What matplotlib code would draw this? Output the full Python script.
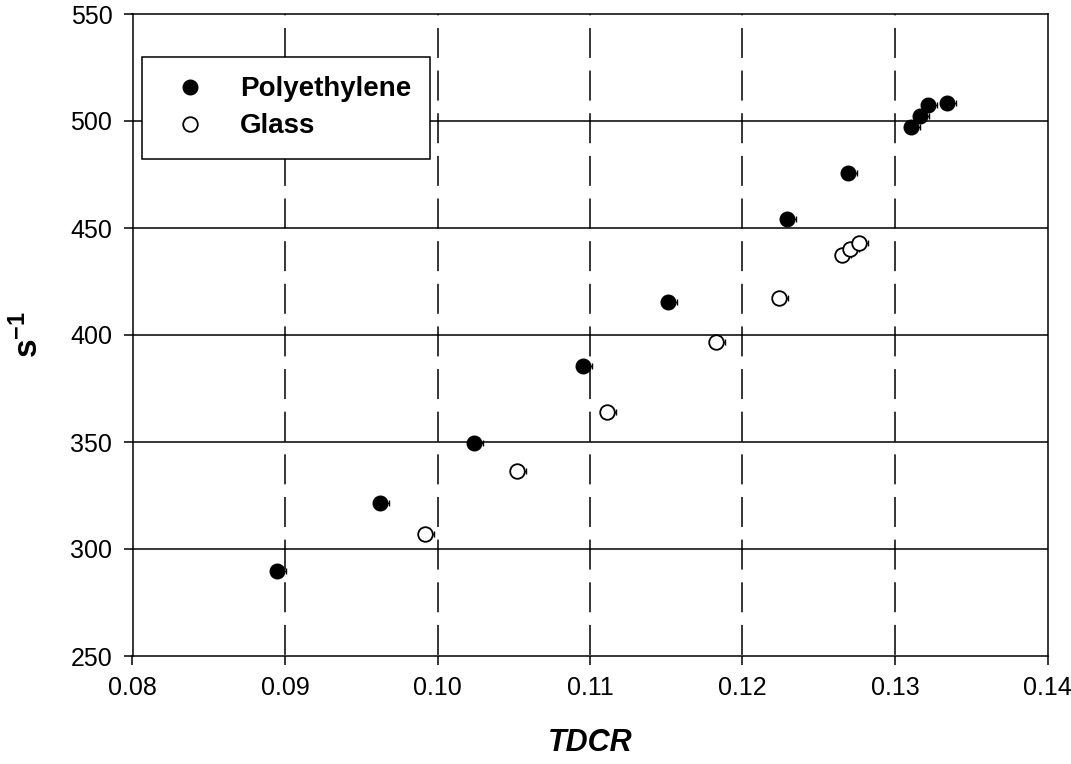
import matplotlib.pyplot as plt
import numpy as np

plt.rcParams['font.family'] = ['Liberation Sans', 'DejaVu Sans']
plt.rcParams['mathtext.fontset'] = 'custom'
plt.rcParams['mathtext.rm'] = 'Liberation Sans'
plt.rcParams['mathtext.bf'] = 'Liberation Sans:bold'
plt.rcParams['lines.scale_dashes'] = False

# values
poly_x = [0.08946, 0.09623, 0.10239, 0.10952, 0.11513, 0.12289, 0.12689,
          0.13107, 0.13164, 0.13216, 0.13339]
poly_y = [289.8, 321.5, 349.3, 385.6, 415.6, 454.1, 475.9,
          497.2, 502.2, 507.7, 508.2]
poly_err = [0.0006] * len(poly_x)

glass_x = [0.09918, 0.10519, 0.11109, 0.11826, 0.12237, 0.12654, 0.12702, 0.12761]
glass_y = [307.2, 336.3, 363.9, 396.7, 417.5, 437.2, 440.3, 442.8]
glass_err = [0.0006] * len(glass_x)

x_ticks = [0.08, 0.09, 0.10, 0.11, 0.12, 0.13, 0.14]
x_labels = ['0.08', '0.09', '0.10', '0.11', '0.12', '0.13', '0.14']
y_ticks = [250, 300, 350, 400, 450, 500, 550]

fig = plt.figure(figsize=(10.71, 7.64), dpi=100)
ax = fig.add_axes([132.5 / 1071, 1 - 656 / 764, 915 / 1071, 642 / 764])

lw = 1.1

# grid: solid horizontal, dashed vertical
for yv in y_ticks[1:-1]:
    ax.axhline(yv, color='black', lw=lw, zorder=1)
for xv in x_ticks[1:-1]:
    ax.axvline(xv, color='black', lw=lw, zorder=1,
               linestyle=(29.9, (21.6, 9.1)))

# error bars (right side only)
ax.errorbar(poly_x, poly_y, xerr=[np.zeros(len(poly_x)), poly_err],
            fmt='none', ecolor='black', elinewidth=1.0, capsize=2.5,
            capthick=1.0, zorder=2)
ax.errorbar(glass_x, glass_y, xerr=[np.zeros(len(glass_x)), glass_err],
            fmt='none', ecolor='black', elinewidth=1.0, capsize=2.5,
            capthick=1.0, zorder=2)

ax.plot(poly_x, poly_y, linestyle='none', marker='o', markersize=10.5,
        markerfacecolor='black', markeredgecolor='black', markeredgewidth=1.0,
        label='Polyethylene', zorder=3)
ax.plot(glass_x, glass_y, linestyle='none', marker='o', markersize=10.5,
        markerfacecolor='white', markeredgecolor='black', markeredgewidth=1.3,
        label='Glass', zorder=3)

ax.set_xlim(0.08, 0.14)
ax.set_ylim(250, 550)
ax.set_xticks(x_ticks)
ax.set_xticklabels(x_labels)
ax.set_yticks(y_ticks)
ax.tick_params(direction='out', length=6.5, width=lw, labelsize=18,
               color='black', pad=8)
for sp in ax.spines.values():
    sp.set_linewidth(lw)
    sp.set_color('black')

ax.set_xlabel('TDCR', fontsize=22, fontweight='bold', style='italic', labelpad=20)
ax.set_ylabel(r'$\mathbf{s^{-1}}$', fontsize=24, labelpad=18)

leg = ax.legend(loc='upper left', bbox_to_anchor=(0.0104, 0.933),
                prop={'weight': 'bold', 'size': 20},
                frameon=True, fancybox=False, borderpad=0.7,
                handlelength=2.05, handletextpad=0.77, labelspacing=0.39,
                borderaxespad=0)
leg.get_frame().set_edgecolor('black')
leg.get_frame().set_linewidth(lw)
leg.get_frame().set_alpha(1)
leg.set_zorder(5)

fig.savefig('out.png', dpi=100)
